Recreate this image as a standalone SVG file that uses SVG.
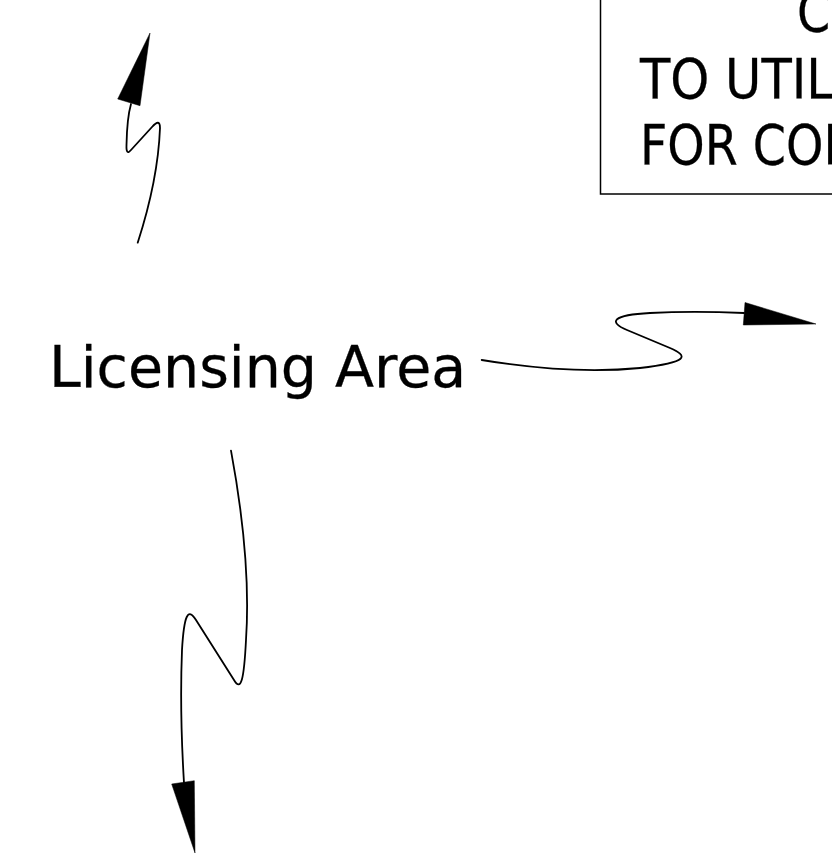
<svg xmlns="http://www.w3.org/2000/svg" width="832" height="854" viewBox="0 0 832 854">
<style>
.t{font-family:Verdana,"DejaVu Sans",sans-serif;fill:#000;stroke:#000;stroke-width:0.3}
.c{fill:none;stroke:#000;stroke-width:1.8;stroke-linecap:round;stroke-linejoin:round}
.h{fill:#000;stroke:#000;stroke-width:0.5}
</style>
<rect width="832" height="854" fill="#fff"/>
<g id="note">
<rect x="600.5" y="-5" width="260" height="199" fill="#fff" stroke="#000" stroke-width="1.5"/>
<text class="t" x="797" y="31" font-size="55" textLength="70.7" lengthAdjust="spacingAndGlyphs">CO</text>
<text class="t" x="640" y="98" font-size="55" textLength="194" lengthAdjust="spacingAndGlyphs">TO UTIL</text>
<text class="t" x="640" y="164" font-size="55" textLength="219" lengthAdjust="spacingAndGlyphs">FOR CON</text>
</g>
<g id="licensing">
<text class="t" x="49" y="387" font-size="57">Licensing Area</text>
</g>
<g id="connectors">
<path class="c" d="M137.7,242.7 Q158,180 160,128 Q160,118 152,127 L131,150 Q126,156 126.5,145 Q127,118 131,104"/>
<polygon class="h" points="117.7,99 140,105.7 150,33"/>
<path class="c" d="M481.7,360 C530,368 590,373 640,368 C690,362 688,356 670,348 L627,330 C608,322 612,315 650,313 C690,311 720,312 744,313"/>
<polygon class="h" points="745,302.5 743.3,325 816,324"/>
<path class="c" d="M231,450.7 C242,510 250,580 246,640 C244,680 241,692 234,680 L196,620 C188,607 184,615 182,650 C180,700 182,750 184,783"/>
<polygon class="h" points="171.7,784 194.3,780.7 195,853"/>
</g>
</svg>
